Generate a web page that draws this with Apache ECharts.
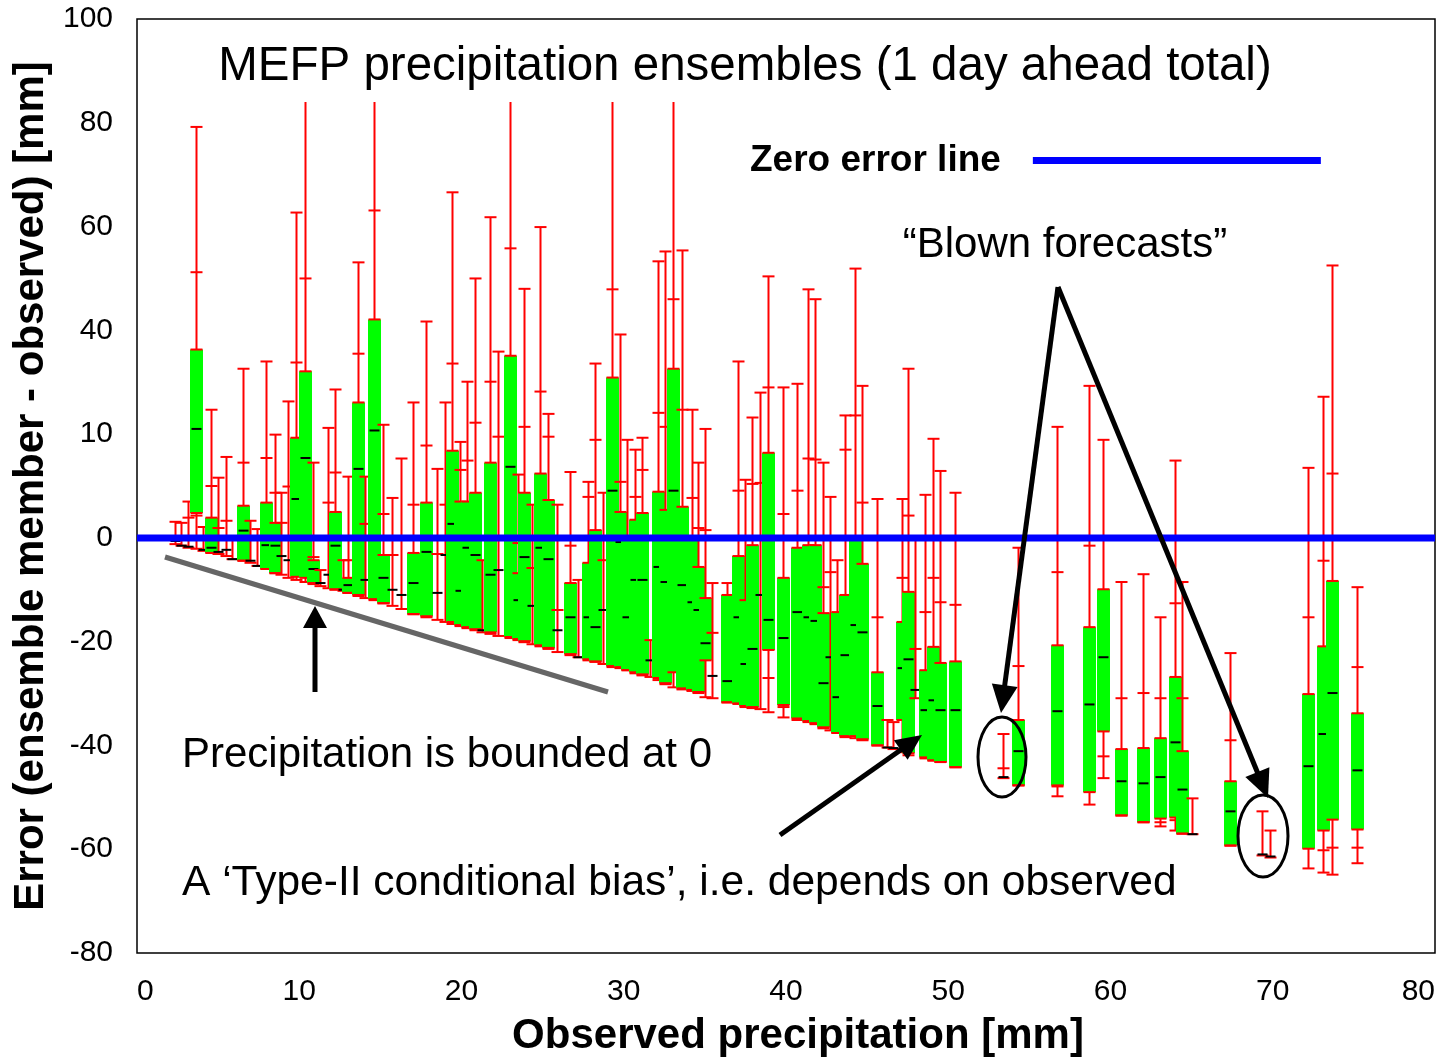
<!DOCTYPE html>
<html>
<head>
<meta charset="utf-8">
<script src="https://cdn.jsdelivr.net/npm/echarts@6/dist/echarts.min.js"></script>
<style>
  html, body { margin: 0; padding: 0; background: #fff; }
  #chart { width: 1441px; height: 1059px; }
</style>
</head>
<body>
<div id="chart"></div>
<script>
// ---- Data (y values are positions on the plotted error axis) ----
const obs = [
  2.34, 2.71, 3.14, 3.64, 4.07, 4.56, 4.99, 5.49, 5.86, 6.53,
  6.96, 7.40, 7.95, 8.51, 8.88, 9.31, 9.80, 10.35, 10.85, 11.28,
  11.77, 12.20, 12.70, 13.00, 13.62, 14.05, 14.61, 15.16, 15.72, 16.27,
  17.01, 17.81, 18.49, 18.98, 19.41, 19.91, 20.34, 20.83, 21.26, 21.76,
  22.25, 22.99, 23.48, 23.85, 24.35, 24.84, 25.33, 25.89, 26.69, 27.18,
  27.80, 28.23, 28.72, 29.28, 29.77, 30.20, 30.69, 31.12, 31.62, 32.11,
  32.54, 33.04, 33.59, 34.21, 34.58, 35.01, 35.44, 36.36, 37.04, 37.47,
  37.90, 38.40, 38.89, 39.82, 40.68, 41.36, 41.79, 42.28, 42.71, 43.14,
  43.64, 44.25, 44.68, 45.61, 46.22, 46.59, 47.15, 47.52, 47.95, 48.57,
  49.06, 49.49, 50.42, 53.37, 54.30, 56.70, 58.67, 59.54, 60.65, 62.00,
  63.05, 63.98, 64.41, 65.02, 67.37, 69.34, 69.83, 72.17, 73.10, 73.65,
  75.19
];
const yMax = [
  3.1, 2.9, 7.0, 79.2, 2.1, 24.7, 11.6, 15.6, -0.4, 32.6,
  3.3, 1.7, 34.0, 19.9, 8.7, 26.3, 62.7, 84, 14.5, -6.2,
  21.2, 28.6, -4.3, 11.8, 53.1, 11.8, 84, 21.8, 7.7, 15.3,
  26.1, 41.7, 13.3, 26.1, 66.6, 18.5, 30.1, 50.0, -4.3, 61.8,
  35.9, 84, 12.2, 48.0, 6.4, 59.9, 23.9, 6.4, 12.7, -8.1,
  10.8, 33.6, 8.7, 84, 39.2, 18.9, 17.0, 19.3, -19.7, 53.3,
  55.2, 84, 55.4, 24.7, 14.5, 21.0, -8.7, -8.7, 34.0, 11.2,
  23.2, 28.0, 50.4, 29.0, 29.7, 47.9, 46.0, 14.5, 7.9, -4.3,
  23.6, 51.9, 29.3, 7.5, -35.1, -35.5, 7.5, 32.6, -0.4, 8.3,
  19.1, 12.9, 8.7, -37.8, -1.9, 21.4, 29.3, 18.9, -8.5, -7.0,
  -15.3, 14.9, -8.5, -50.2, -22.2, -52.7, -56.4, 13.5, 27.2, 52.5,
  -9.5
];
const yP90 = [
  null, null, 3.9, 51.2, null, 10.0, 1.9, 3.3, null, 14.5,
  null, null, 15.4, 8.7, 2.9, 9.9, 33.8, 50.0, -3.7, null,
  6.8, 12.6, null, -4.3, 35.5, 2.7, 63.1, 4.6, -3.3, null,
  6.4, 17.8, -3.1, 6.4, 33.6, 13.1, 14.9, 22.2, null, 30.1,
  19.5, 55.8, -1.0, 21.4, -5.8, 28.2, 19.5, -13.9, -1.5, null,
  7.9, 18.9, -4.3, 47.9, 10.8, null, 7.9, 13.1, null, 24.1,
  21.4, 46.0, 24.7, 7.7, 1.9, 1.5, -18.3, null, 9.1, null,
  10.4, 10.6, 29.0, 4.6, 9.1, 15.3, 15.1, -9.5, -6.6, null,
  17.0, 23.6, 6.8, -15.3, null, null, -7.7, 4.3, -21.4, -14.3,
  -7.7, -12.4, -12.9, -44.4, -24.7, -6.6, -1.5, null, -30.9, -29.9,
  -30.9, -12.6, -30.9, null, -39.0, null, null, -15.3, -4.4, 12.4,
  -24.9
];
const yQ3 = [
  null, null, null, 36.3, null, 3.9, null, null, null, 6.2,
  null, null, 6.8, 2.9, null, null, 19.3, 32.1, -4.3, null,
  null, 5.0, null, -7.7, 26.1, null, 42.1, -3.3, null, null,
  -2.9, 6.8, null, null, 16.8, 7.0, 7.0, 8.7, null, 14.5,
  null, 35.1, -6.8, 8.7, null, 12.4, 7.3, null, -8.7, null,
  -4.8, 1.5, null, 30.9, 5.0, -0.4, 3.5, 4.8, null, 8.9,
  5.4, 32.6, 6.0, -0.4, -5.6, -11.6, null, -11.0, -3.5, -12.0,
  -1.4, null, 16.4, -7.7, -1.9, -1.4, -1.4, -14.5, null, -14.3,
  -11.0, -0.4, -5.0, -25.9, null, null, -16.2, -10.4, null, -25.5,
  -21.0, -24.1, -23.8, null, -35.1, -20.7, -17.2, -9.9, -40.7, -40.5,
  -38.6, -26.8, -41.1, null, -46.9, null, null, -30.1, -20.9, -8.3,
  -33.8
];
const yMed = [
  -0.6, -1.5, -1.7, 21.0, -2.3, -1.9, -2.7, -2.3, -4.1, 1.4,
  -4.4, -5.4, -1.4, -1.5, -3.5, -4.3, 7.5, 15.4, -6.0, -8.7,
  -7.1, -1.5, -10.0, -9.1, 13.3, -8.1, 20.7, -7.7, -10.0, -11.0,
  -8.7, -2.7, -10.6, -3.3, 2.7, -10.2, -1.9, -3.3, -17.8, -7.1,
  -6.2, 13.7, -12.0, -3.7, -13.1, -1.9, -4.1, -17.8, -15.3, -23.0,
  -15.3, -17.2, -13.9, 9.1, -0.8, -15.3, -8.1, -8.1, -23.6, -5.6,
  -8.5, 9.1, -9.1, -12.4, -13.9, -20.3, -26.6, -27.6, -15.3, -24.3,
  -21.4, -11.0, -15.8, -19.3, -14.3, -15.3, -16.0, -28.0, -23.0, -30.7,
  -22.6, -16.8, -18.2, -32.4, -40.4, -40.5, -25.1, -23.4, -29.3, -33.2,
  -31.3, -33.2, -33.2, -46.1, -41.1, -33.4, -32.1, -23.0, -46.9, -47.3,
  -46.1, -39.4, -48.5, -57.1, -52.7, -61.0, -61.4, -44.0, -37.8, -29.9,
  -44.8
];
const yQ1 = [
  null, null, null, 4.8, null, -2.9, null, null, null, -4.4,
  null, null, -6.0, -6.8, null, null, -7.5, -7.7, -8.7, null,
  null, -9.9, null, -10.6, -11.0, null, -11.8, -12.6, null, null,
  -14.7, -15.1, null, null, -16.2, -16.8, -17.2, -17.6, null, -18.2,
  null, -19.1, -19.5, -19.9, null, -20.7, -21.2, null, -22.4, null,
  -23.4, -23.8, null, -24.7, -24.9, -25.5, -25.9, -26.3, null, -27.0,
  -28.0, -25.9, -29.0, -29.3, -29.7, -23.6, null, -31.7, -31.9, -32.4,
  -32.6, null, -21.6, -32.2, -34.8, -35.3, -35.7, -36.5, null, -37.6,
  -38.2, -38.2, -38.8, -40.0, null, null, -35.1, -41.5, null, -42.3,
  -42.9, -43.2, -44.2, null, -47.7, -47.7, -49.0, -37.3, -53.5, -54.8,
  -54.1, -53.9, -57.0, null, -59.3, null, null, -59.9, -56.4, -54.3,
  -56.2
];
const yP10 = [
  null, null, null, 4.3, null, null, null, null, null, null,
  null, null, null, null, null, null, null, null, null, null,
  null, null, null, null, null, null, null, null, null, null,
  null, null, null, null, null, null, null, null, null, null,
  null, null, null, null, null, null, null, null, null, null,
  null, null, null, null, null, null, null, null, null, null,
  null, null, null, null, null, null, null, null, null, null,
  null, null, -27.0, -32.6, null, null, null, null, null, null,
  null, null, null, null, null, null, null, null, null, null,
  null, null, null, null, null, -47.9, null, -42.1, null, null,
  -54.8, -54.4, null, null, null, null, null, null, -60.2, -59.7,
  -59.7
];
const yMin = [
  -1.2, -1.5, -1.9, -2.1, -2.5, -2.9, -3.1, -3.5, -4.1, -4.4,
  -4.8, -5.4, -6.0, -6.8, -7.1, -7.7, -8.1, -8.5, -8.9, -9.3,
  -9.7, -10.0, -10.2, -10.6, -11.2, -11.6, -12.0, -12.6, -13.1, -13.7,
  -14.7, -15.3, -15.8, -16.2, -16.6, -17.0, -17.4, -17.8, -18.2, -18.5,
  -18.9, -19.3, -19.7, -20.1, -20.5, -20.9, -21.4, -22.0, -22.6, -23.0,
  -23.6, -23.9, -24.3, -24.9, -25.1, -25.5, -26.1, -26.5, -26.8, -27.4,
  -28.2, -28.8, -29.2, -29.5, -29.9, -30.7, -30.9, -31.7, -32.0, -32.6,
  -32.8, -33.0, -33.6, -34.6, -35.1, -35.5, -35.9, -36.7, -37.1, -37.6,
  -38.4, -38.6, -39.0, -40.0, -40.4, -40.7, -41.3, -41.9, -30.9, -42.5,
  -42.9, -43.2, -44.2, -46.3, -47.7, -49.8, -51.4, -46.3, -53.5, -54.8,
  -55.6, -56.4, -57.0, -57.1, -59.3, -61.2, -61.6, -63.7, -64.5, -64.9,
  -62.7
];
// Whiskers that run off the top of the drawn range (no cap)
const TOP_CLIP = 84;

// Axis ticks: positions and the labels printed at them
const yTickValues = [-80, -60, -40, -20, 0, 20, 40, 60, 80, 100];
const yTickLabels = ['-80', '-60', '-40', '-20', '0', '10', '40', '60', '80', '100'];
const xTickValues = [0, 10, 20, 30, 40, 50, 60, 70, 80];

const FONT = "'Liberation Sans', Arial, Helvetica, sans-serif";

const chart = echarts.init(document.getElementById('chart'), null, { renderer: 'canvas' });

const ensData = obs.map((x, i) => [x, yMin[i], yMax[i]]);

function renderEnsemble(params, api) {
  const i = params.dataIndex;
  const x = obs[i];
  const c = v => api.coord([x, v]);
  const px = Math.round(c(yMin[i])[0]) + 0.5;
  const RED = '#ff0000';
  const BW = 6.5, CW = 6, MW = 5;
  const children = [];
  const top = Math.min(yMax[i], TOP_CLIP);
  children.push({ type: 'line', shape: { x1: px, y1: c(yMin[i])[1], x2: px, y2: c(top)[1] },
    style: { stroke: RED, lineWidth: 2 } });
  if (yQ3[i] != null && yQ1[i] != null) {
    const t = c(yQ3[i])[1], b = c(yQ1[i])[1];
    children.push({ type: 'rect', shape: { x: px - BW, y: t, width: 2 * BW, height: Math.max(b - t, 1) },
      style: { fill: '#00ff00' } });
  }
  const ticks = [yMin[i], yP10[i], yQ1[i], yQ3[i], yP90[i]];
  if (yMax[i] < TOP_CLIP) ticks.push(yMax[i]);
  ticks.forEach(v => {
    if (v == null) return;
    const py = c(v)[1];
    children.push({ type: 'line', shape: { x1: px - CW, y1: py, x2: px + CW, y2: py },
      style: { stroke: RED, lineWidth: 2 } });
  });
  const pm = c(yMed[i])[1];
  children.push({ type: 'line', shape: { x1: px - MW, y1: pm, x2: px + MW, y2: pm },
    style: { stroke: '#000', lineWidth: 2 } });
  return { type: 'group', children };
}

function arrow(x1, y1, tx, ty, headLen, headHalf, width) {
  const dx = tx - x1, dy = ty - y1;
  const L = Math.sqrt(dx * dx + dy * dy);
  const ux = dx / L, uy = dy / L;
  const bx = tx - headLen * ux, by = ty - headLen * uy;
  const nx = -uy, ny = ux;
  return [
    { type: 'line', z: 20, shape: { x1, y1, x2: bx + ux * 2, y2: by + uy * 2 },
      style: { stroke: '#000', lineWidth: width } },
    { type: 'polygon', z: 20, shape: { points: [[tx, ty], [bx + nx * headHalf, by + ny * headHalf], [bx - nx * headHalf, by - ny * headHalf]] },
      style: { fill: '#000' } }
  ];
}

const option = {
  animation: false,
  backgroundColor: '#fff',
  grid: { left: 137, right: 6, top: 19, bottom: 106, outerBoundsMode: 'none', containLabel: false,
    show: true, borderColor: '#000', borderWidth: 1.5, backgroundColor: 'transparent' },
  xAxis: {
    type: 'value', min: 0, max: 80, interval: 10,
    axisLine: { show: false }, axisTick: { show: false }, splitLine: { show: false },
    axisLabel: { margin: 24, color: '#000', fontSize: 30, fontFamily: FONT,
      alignMinLabel: 'left', alignMaxLabel: 'right',
      formatter: v => (xTickValues.indexOf(v) >= 0 ? String(v) : '') },
    name: 'Observed precipitation [mm]', nameLocation: 'middle', nameGap: 62,
    nameTextStyle: { color: '#000', fontSize: 42, fontWeight: 'bold', fontFamily: FONT, padding: [0, 0, 0, 24] }
  },
  yAxis: {
    type: 'value', min: -80, max: 100, interval: 20,
    axisLine: { show: false }, axisTick: { show: false }, splitLine: { show: false },
    axisLabel: { margin: 24, color: '#000', fontSize: 30, fontFamily: FONT,
      formatter: v => { const k = yTickValues.indexOf(v); return k >= 0 ? yTickLabels[k] : ''; } },
    name: 'Error (ensemble member - observed) [mm]', nameLocation: 'middle', nameGap: 83, nameRotate: 90,
    nameTextStyle: { color: '#000', fontSize: 42, fontWeight: 'bold', fontFamily: FONT }
  },
  legend: {
    left: 750, top: 142, padding: 0, align: 'right', itemWidth: 288, itemHeight: 7, icon: 'rect',
    textStyle: { color: '#000', fontSize: 37, fontWeight: 'bold', fontFamily: FONT, padding: [0, 27, 0, 0] },
    data: ['Zero error line']
  },
  series: [
    {
      type: 'custom', name: 'ensembles', renderItem: renderEnsemble, data: ensData,
      encode: { x: 0, y: [1, 2] }, clip: true, z: 2, silent: true
    },
    {
      type: 'line', name: 'Zero error line', data: [[0, 0], [80, 0]], showSymbol: false, symbol: 'none',
      lineStyle: { color: '#0000ff', width: 7 }, itemStyle: { color: '#0000ff' }, z: 5, silent: true
    }
  ],
  graphic: [
    { type: 'text', x: 745, y: 67, z: 20, style: { text: 'MEFP precipitation ensembles (1 day ahead total)', font: "47.5px " + FONT, fill: '#000', align: 'center', verticalAlign: 'middle' } },
    { type: 'text', x: 1065, y: 245, z: 20, style: { text: '\u201CBlown forecasts\u201D', font: "42px " + FONT, fill: '#000', align: 'center', verticalAlign: 'middle' } },
    { type: 'text', x: 182, y: 755, z: 20, style: { text: 'Precipitation is bounded at 0', font: "42px " + FONT, fill: '#000', align: 'left', verticalAlign: 'middle' } },
    { type: 'text', x: 182, y: 883, z: 20, style: { text: 'A \u2018Type-II conditional bias\u2019, i.e. depends on observed', font: "42.5px " + FONT, fill: '#000', align: 'left', verticalAlign: 'middle' } },
    { type: 'line', z: 19, shape: { x1: 165, y1: 557, x2: 608, y2: 692 }, style: { stroke: '#666', lineWidth: 5 } },
    ...arrow(315, 692, 315, 606, 22, 12, 5),
    ...arrow(780, 835, 922, 735, 26, 12, 5),
    ...arrow(1058, 287, 1001, 713, 28, 13, 5),
    ...arrow(1058, 287, 1268, 798, 28, 13, 5),
    { type: 'ellipse', z: 20, shape: { cx: 1002, cy: 757, rx: 24, ry: 40 }, style: { fill: 'none', stroke: '#000', lineWidth: 3 } },
    { type: 'ellipse', z: 20, shape: { cx: 1263, cy: 836, rx: 25, ry: 41 }, style: { fill: 'none', stroke: '#000', lineWidth: 3 } }
  ]
};

chart.setOption(option);
</script>
</body>
</html>
